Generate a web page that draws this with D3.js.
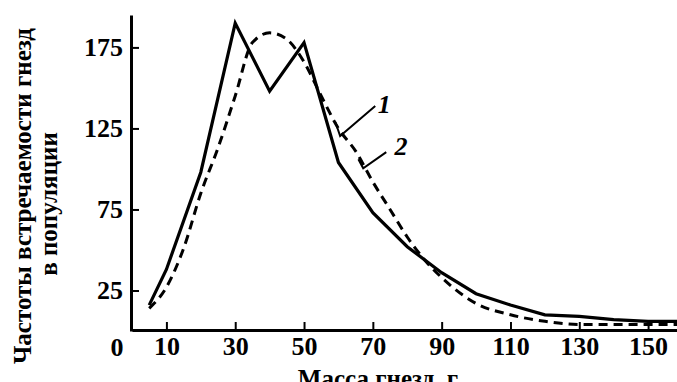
<!DOCTYPE html>
<html>
<head>
<meta charset="utf-8">
<script src="https://cdn.jsdelivr.net/npm/d3@7"></script>
<style>
  body { margin: 0; background: #fff; }
  text { font-family: 'Liberation Serif', 'DejaVu Serif', serif; font-weight: bold; fill: #000; }
</style>
</head>
<body>
<div id="chart"></div>
<script>
const width = 677;
const height = 382;

// Curve 1 (solid): nest mass, g -> frequency
const massSolid = [5, 10, 20, 30, 40, 50, 60, 70, 80, 90, 100, 110, 120, 130, 140, 150, 160];
const freqSolid = [16, 38, 98, 190, 148, 178, 104, 73, 52, 36, 23, 16, 10, 9, 7, 6, 6];

// Curve 2 (dashed)
const massDashed = [5, 10, 15, 20, 25, 30, 35, 40, 45, 50, 55, 60, 65, 70, 75, 80, 85, 90, 100, 110, 120, 130, 140, 150, 160];
const freqDashed = [14, 27, 51, 85, 113, 145, 178, 184, 180, 166, 145, 125, 111, 92, 75, 58, 44, 33, 17, 10, 6, 4, 4, 4, 4];

const xTicks = [10, 30, 50, 70, 90, 110, 130, 150];
const yTicks = [25, 75, 125, 175];

// Curve labels with leader lines (data units)
const curveLabels = [
  { text: '1', at: [73.3, 140], leader: [[59.1, 129], [60.5, 120.3], [70.7, 138.9]] },
  { text: '2', at: [78.2, 114], leader: [[65.8, 106], [67.2, 100.4], [73.9, 110.4]] },
];

const x = d3.scaleLinear().domain([0, 158.4]).range([132, width]);
const y = d3.scaleLinear().domain([0, 195]).range([331, 15]);
const line = d3.line().x((d) => x(d[0])).y((d) => y(d[1]));

const svg = d3.select('#chart').append('svg')
  .attr('width', width)
  .attr('height', height);

svg.append('defs').append('clipPath').attr('id', 'plot')
  .append('rect').attr('x', x(0)).attr('y', 0).attr('width', width - x(0)).attr('height', y(0));

// Axes (ticks pointing inward)
const xAxis = svg.append('g')
  .attr('transform', `translate(0,${y(0) - 1})`)
  .call(d3.axisBottom(x).tickValues(xTicks).tickSize(-8).tickSizeOuter(0).tickPadding(7));
const yAxis = svg.append('g')
  .attr('transform', `translate(${x(0) - 1},0)`)
  .call(d3.axisLeft(y).tickValues(yTicks).tickSize(-8).tickSizeOuter(0).tickPadding(8));

[xAxis, yAxis].forEach((g) => {
  g.select('.domain').attr('stroke', '#000').attr('stroke-width', 3);
  g.selectAll('.tick line').attr('stroke', '#000').attr('stroke-width', 2);
  g.selectAll('.tick text')
    .style('font-size', '26px')
    .style('font-family', "'Liberation Serif', serif")
    .style('font-weight', 'bold');
});

// "0" at the origin
svg.append('text')
  .attr('x', x(0) - 15)
  .attr('y', y(0) + 25)
  .attr('text-anchor', 'middle')
  .style('font-size', '26px')
  .text('0');

// Axis titles
svg.append('text')
  .attr('x', 378)
  .attr('y', 387)
  .attr('text-anchor', 'middle')
  .style('font-size', '25px')
  .text('Масса гнезд, г');

svg.append('text')
  .attr('transform', 'translate(31,196) rotate(-90)')
  .attr('text-anchor', 'middle')
  .style('font-size', '25px')
  .text('Частоты встречаемости гнезд');
svg.append('text')
  .attr('transform', 'translate(57,204) rotate(-90)')
  .attr('text-anchor', 'middle')
  .style('font-size', '25px')
  .text('в популяции');

const plot = svg.append('g').attr('clip-path', 'url(#plot)');

// Dashed curve
plot.append('path')
  .datum(massDashed.map((m, i) => [m, freqDashed[i]]))
  .attr('fill', 'none')
  .attr('stroke', '#000')
  .attr('stroke-width', 3)
  .attr('stroke-dasharray', '9,6')
  .attr('d', line.curve(d3.curveMonotoneX));

// Solid curve
plot.append('path')
  .datum(massSolid.map((m, i) => [m, freqSolid[i]]))
  .attr('fill', 'none')
  .attr('stroke', '#000')
  .attr('stroke-width', 3.2)
  .attr('d', line.curve(d3.curveLinear));

// Labels 1 and 2
curveLabels.forEach((c) => {
  svg.append('path')
    .datum(c.leader)
    .attr('fill', 'none')
    .attr('stroke', '#000')
    .attr('stroke-width', 2)
    .attr('d', line);
  svg.append('text')
    .attr('x', x(c.at[0]))
    .attr('y', y(c.at[1]))
    .attr('dy', '0.35em')
    .attr('text-anchor', 'middle')
    .style('font-size', '26px')
    .style('font-style', 'italic')
    .text(c.text);
});
</script>
</body>
</html>
